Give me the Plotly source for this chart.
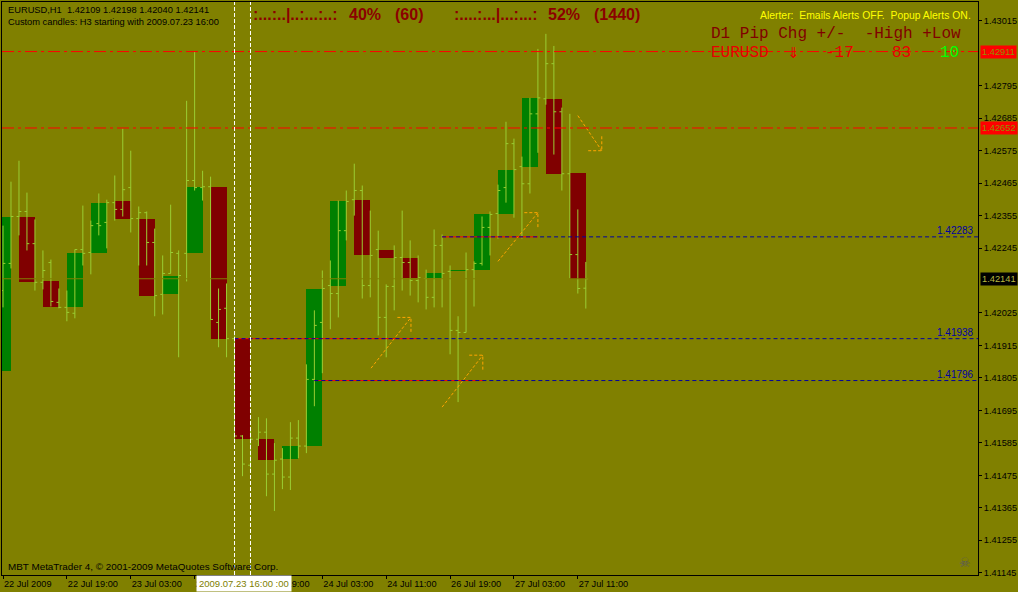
import plotly.graph_objects as go

# ---------------- data ----------------
# H1 bars, bar index 0 = 22 Jul 2009 11:00
h1_open = [1.42101, 1.42193, 1.42352, 1.42369, 1.42260, 1.42129, 1.42196, 1.42061, 1.42044, 1.42024,
           1.42240, 1.42230, 1.42328, 1.42332, 1.42399, 1.42376, 1.42450, 1.42345, 1.42365, 1.42264,
           1.42088, 1.42159, 1.42227, 1.42227, 1.42474, 1.42450, 1.42453, 1.41993, 1.42041, 1.41938,
           1.41608, 1.41509, 1.41597, 1.41621, 1.41479, 1.41530, 1.41469, 1.41601, 1.41574, 1.41800,
           1.41993, 1.42118, 1.42091, 1.42304, 1.42409, 1.42440, 1.42118, 1.42240, 1.42010, 1.42115,
           1.42213, 1.42196, 1.42135, 1.42142, 1.42078, 1.42254, 1.42166, 1.41966, 1.41959, 1.42172,
           1.42193, 1.42315, 1.42362, 1.42450, 1.42599, 1.42521, 1.42463, 1.42700, 1.42751, 1.42870,
           1.42707, 1.42497, 1.42223, 1.42109]
h1_high = [1.42321, 1.42470, 1.42541, 1.42433, 1.42342, 1.42237, 1.42206, 1.42108, 1.42101, 1.42240,
           1.42389, 1.42338, 1.42430, 1.42409, 1.42491, 1.42650, 1.42575, 1.42386, 1.42369, 1.42311,
           1.42220, 1.42392, 1.42237, 1.42744, 1.42913, 1.42507, 1.42487, 1.42108, 1.42125, 1.41949,
           1.41611, 1.41628, 1.41672, 1.41668, 1.41584, 1.41567, 1.41655, 1.41662, 1.41851, 1.42034,
           1.42169, 1.42203, 1.42406, 1.42440, 1.42531, 1.42457, 1.42372, 1.42304, 1.42122, 1.42254,
           1.42372, 1.42271, 1.42220, 1.42172, 1.42308, 1.42291, 1.42186, 1.42014, 1.42230, 1.42200,
           1.42352, 1.42369, 1.42460, 1.42673, 1.42616, 1.42555, 1.42754, 1.42920, 1.42971, 1.42930,
           1.42721, 1.42700, 1.42376, 1.42198]
h1_low = [1.42044, 1.42176, 1.42288, 1.42237, 1.42101, 1.42105, 1.42047, 1.42041, 1.41997, 1.42007,
          1.42186, 1.42156, 1.42288, 1.42244, 1.42338, 1.42352, 1.42298, 1.42186, 1.42186, 1.42014,
          1.42020, 1.42159, 1.41875, 1.42132, 1.42440, 1.42406, 1.42003, 1.41909, 1.41875, 1.41594,
          1.41472, 1.41492, 1.41574, 1.41404, 1.41354, 1.41428, 1.41425, 1.41533, 1.41550, 1.41709,
          1.41821, 1.41970, 1.42010, 1.42271, 1.42355, 1.42074, 1.42078, 1.41949, 1.41875, 1.42034,
          1.42101, 1.42084, 1.42061, 1.42037, 1.42044, 1.42044, 1.41885, 1.41723, 1.41959, 1.42047,
          1.42186, 1.42220, 1.42277, 1.42399, 1.42348, 1.42277, 1.42430, 1.42568, 1.42731, 1.42562,
          1.42440, 1.42142, 1.42091, 1.42040]
h1_close = [1.42193, 1.42352, 1.42369, 1.42260, 1.42129, 1.42169, 1.42064, 1.42044, 1.42027, 1.42240,
            1.42227, 1.42321, 1.42321, 1.42399, 1.42376, 1.42443, 1.42345, 1.42365, 1.42264, 1.42084,
            1.42159, 1.42230, 1.42152, 1.42474, 1.42450, 1.42453, 1.42003, 1.42037, 1.41938, 1.41608,
            1.41513, 1.41597, 1.41621, 1.41479, 1.41526, 1.41469, 1.41601, 1.41574, 1.41800, 1.41983,
            1.42108, 1.42091, 1.42304, 1.42403, 1.42440, 1.42118, 1.42220, 1.42010, 1.42115, 1.42213,
            1.42196, 1.42135, 1.42145, 1.42078, 1.42254, 1.42159, 1.41966, 1.41959, 1.42172, 1.42193,
            1.42315, 1.42359, 1.42440, 1.42599, 1.42511, 1.42463, 1.42700, 1.42754, 1.42870, 1.42707,
            1.42497, 1.42223, 1.42108, 1.42141]

# H3 custom candles (first H1 bar index, open, close)
h3_start = [-1, 2, 5, 8, 11, 14, 17, 20, 23, 26, 29, 32, 35, 38, 41, 44, 47, 50, 53, 56, 59, 62, 65, 68, 71]
h3_open = [1.41827, 1.42352, 1.42132, 1.42044, 1.42230, 1.42403, 1.42345, 1.42088, 1.42227, 1.42453,
           1.41938, 1.41597, 1.41530, 1.41574, 1.42118, 1.42409, 1.42240, 1.42213, 1.42142, 1.42166,
           1.42172, 1.42362, 1.42521, 1.42751, 1.42501]
h3_close = [1.42352, 1.42129, 1.42044, 1.42227, 1.42399, 1.42345, 1.42084, 1.42152, 1.42453, 1.41938,
            1.41597, 1.41526, 1.41574, 1.42108, 1.42403, 1.42220, 1.42213, 1.42145, 1.42159, 1.42172,
            1.42359, 1.42511, 1.42754, 1.42497, 1.42141]

x_tick_idx = [0, 8, 16, 24, 32, 40, 48, 56, 64, 72]
x_tick_text = ["22 Jul 2009", "22 Jul 19:00", "23 Jul 03:00", "23 Jul 11:00", "23 Jul 19:00",
               "24 Jul 03:00", "24 Jul 11:00", "26 Jul 19:00", "27 Jul 03:00", "27 Jul 11:00"]
y_tick_vals = [1.41145, 1.41255, 1.41365, 1.41475, 1.41585, 1.41695, 1.41805, 1.41915, 1.42025,
               1.42245, 1.42355, 1.42465, 1.42575, 1.42685, 1.42795, 1.43015]

red_lines = [1.42911, 1.42652]
bid_price = 1.42141
level_price = [1.42283, 1.41938, 1.41796]
level_start = [55, 29, 39]
level_red_end = [67, 52, 60.25]
vline_idx = [29, 31]

arrow_x0 = [46.1, 55.0, 62.0, 72.0]
arrow_p0 = [1.41838, 1.41706, 1.42200, 1.42694]
arrow_x1 = [51.1, 60.1, 67.0, 75.0]
arrow_p1 = [1.42010, 1.41882, 1.42365, 1.42575]

# ---------------- style ----------------
BG = "#808000"
BAR_COL = "#9ACD32"
X_MIN, X_MAX = -0.125, 122.125
Y_MIN, Y_MAX = 1.41137, 1.43079
W, H = 1018, 592
PL, PR, PT, PB = 2, 980, 1, 575
HEAD_DX, HEAD_DY = 1.7, 0.0005
FONT = "Liberation Sans"


def fx(px):
    return (px - PL) / (PR - PL)


def fy(py):
    return (PB - py) / (PB - PT)


fig = go.Figure()

# H3 boxes
fig.add_trace(go.Bar(
    x=[s + 1 for s in h3_start],
    y=[abs(c - o) for o, c in zip(h3_open, h3_close)],
    base=[min(o, c) for o, c in zip(h3_open, h3_close)],
    width=2.0,
    marker=dict(color=["#008000" if c >= o else "#800000" for o, c in zip(h3_open, h3_close)],
                line=dict(width=0)),
    hoverinfo="skip", showlegend=False))

# H1 OHLC bars
fig.add_trace(go.Ohlc(
    x=list(range(len(h1_open))), open=h1_open, high=h1_high, low=h1_low, close=h1_close,
    increasing=dict(line=dict(color=BAR_COL, width=1)),
    decreasing=dict(line=dict(color=BAR_COL, width=1)),
    tickwidth=0.3, hoverinfo="skip", showlegend=False))

# bid line (same colour as background, visible over boxes)
fig.add_trace(go.Scatter(x=[X_MIN, X_MAX], y=[bid_price, bid_price], mode="lines",
                         line=dict(color=BG, width=1), hoverinfo="skip", showlegend=False))

# arrows
for x0, p0, x1, p1 in zip(arrow_x0, arrow_p0, arrow_x1, arrow_p1):
    sgn = -1 if p1 > p0 else 1
    fig.add_trace(go.Scatter(x=[x0, x1], y=[p0, p1], mode="lines",
                             line=dict(color="#FFA500", width=1, dash="3px,2px"),
                             hoverinfo="skip", showlegend=False))
    fig.add_trace(go.Scatter(x=[x1 - HEAD_DX, x1, x1], y=[p1, p1, p1 + sgn * HEAD_DY], mode="lines",
                             line=dict(color="#FFA500", width=1, dash="3px,2px"),
                             hoverinfo="skip", showlegend=False))

shapes = []
for p in red_lines:
    shapes.append(dict(type="line", xref="x", yref="y", x0=X_MIN, x1=X_MAX, y0=p, y1=p,
                       line=dict(color="#FF0000", width=1, dash="12px,4px,3px,4px"), layer="above"))
for p, s, e in zip(level_price, level_start, level_red_end):
    shapes.append(dict(type="line", xref="x", yref="y", x0=s, x1=e, y0=p, y1=p,
                       line=dict(color="#FF0000", width=1), layer="above"))
    shapes.append(dict(type="line", xref="x", yref="y", x0=s, x1=X_MAX, y0=p, y1=p,
                       line=dict(color="#0000A0", width=1, dash="4px,3px"), layer="above"))
for v in vline_idx:
    shapes.append(dict(type="line", xref="x", yref="paper", x0=v, x1=v, y0=0, y1=1,
                       line=dict(color="#FFFFFF", width=1, dash="4px,2px"), layer="above"))

ann = []


def text(px, py, s, size=9.3, color="black", family=FONT, xanchor="left", **kw):
    ann.append(dict(xref="paper", yref="paper", x=fx(px), y=fy(py), text=s, showarrow=False,
                    xanchor=xanchor, yanchor="middle", font=dict(family=family, size=size, color=color),
                    **kw))


text(6, 9, "EURUSD,H1\u00a0\u00a01.42109 1.42198 1.42040 1.42141")
text(6, 21, "Custom candles: H3 starting with 2009.07.23 16:00")
text(6, 566, "MBT MetaTrader 4, \u00a9 2001-2009 MetaQuotes Software Corp.", size=9.9)

DR = "#8B0000"
text(252, 14, "<b>:...:..|..:...:..:</b>", size=16, color=DR)
text(348, 14, "<b>40%</b>", size=16, color=DR)
text(394, 14, "<b>(60)</b>", size=16, color=DR)
text(453, 14, "<b>:....:...|...:...:</b>", size=16, color=DR)
text(547, 14, "<b>52%</b>", size=16, color=DR)
text(593, 14, "<b>(1440)</b>", size=16, color=DR)

text(975, 15, "Alerter:\u00a0\u00a0Emails Alerts OFF.\u00a0\u00a0Popup Alerts ON.", size=10.4,
     color="#FFFF00", xanchor="right")

MONO = "Liberation Mono"
text(710, 33, "D1 Pip Chg +/-\u00a0\u00a0-High +Low", size=16, color="#800000", family=MONO)
text(710, 52, "EURUSD", size=16, color="#E80000", family=MONO)
text(787, 52, "\u21d3", size=15, color="#E80000", family="DejaVu Sans")
text(825, 52, "-17", size=16, color="#E80000", family=MONO)
text(892, 52, "83", size=16, color="#E80000", family=MONO)
text(940, 52, "10", size=16, color="#00FF00", family=MONO)

# level labels
for p in level_price:
    ann.append(dict(xref="paper", yref="y", x=fx(978), y=p, text=f"{p:.5f}", showarrow=False,
                    xanchor="right", yanchor="bottom", yshift=-1,
                    font=dict(family=FONT, size=10, color="#0000A0")))

# price labels on axis
for p, bg, fc in [(red_lines[0], "#FF0000", "#909000"), (red_lines[1], "#FF0000", "#909000"),
                  (bid_price, "#000000", "#B8B840")]:
    ann.append(dict(xref="paper", yref="y", x=fx(982), y=p, text=f"{p:.5f}", showarrow=False,
                    xanchor="left", yanchor="middle", bgcolor=bg, borderpad=1,
                    font=dict(family=FONT, size=9.3, color=fc)))

# crosshair time label
ann.append(dict(xref="paper", yref="paper", x=fx(196), y=fy(584), text="2009.07.23 16:00 :00",
                showarrow=False, xanchor="left", yanchor="middle", bgcolor="#FFFFFF", borderpad=2,
                font=dict(family=FONT, size=9.5, color="#808000")))

text(967, 562, "\u2620", size=13, color="#5A5A5A", family="DejaVu Sans", xanchor="center")

fig.update_layout(
    width=W, height=H,
    margin=dict(l=PL, r=W - PR, t=PT, b=H - PB, pad=0),
    paper_bgcolor=BG, plot_bgcolor=BG,
    showlegend=False, hovermode=False,
    font=dict(family=FONT, size=9, color="black"),
    shapes=shapes, annotations=ann,
    xaxis=dict(range=[X_MIN, X_MAX], tickvals=x_tick_idx, ticktext=x_tick_text,
               ticks="outside", ticklen=3, tickcolor="black", showline=True, linecolor="black",
               mirror=True, showgrid=False, zeroline=False, ticklabelposition="outside right",
               tickfont=dict(family=FONT, size=9.2, color="black"), rangeslider=dict(visible=False),
               fixedrange=True),
    yaxis=dict(range=[Y_MIN, Y_MAX], side="right", tickvals=y_tick_vals,
               ticktext=[f"{v:.5f}" for v in y_tick_vals], ticks="outside", ticklen=3,
               tickcolor="black", showline=True, linecolor="black", mirror=True, showgrid=False,
               zeroline=False, tickfont=dict(family=FONT, size=9.2, color="black"), fixedrange=True),
    bargap=0,
)

fig.write_html("out.html", config={"staticPlot": True},
               post_script="document.body.style.margin='0';document.body.style.background='#808000';")
